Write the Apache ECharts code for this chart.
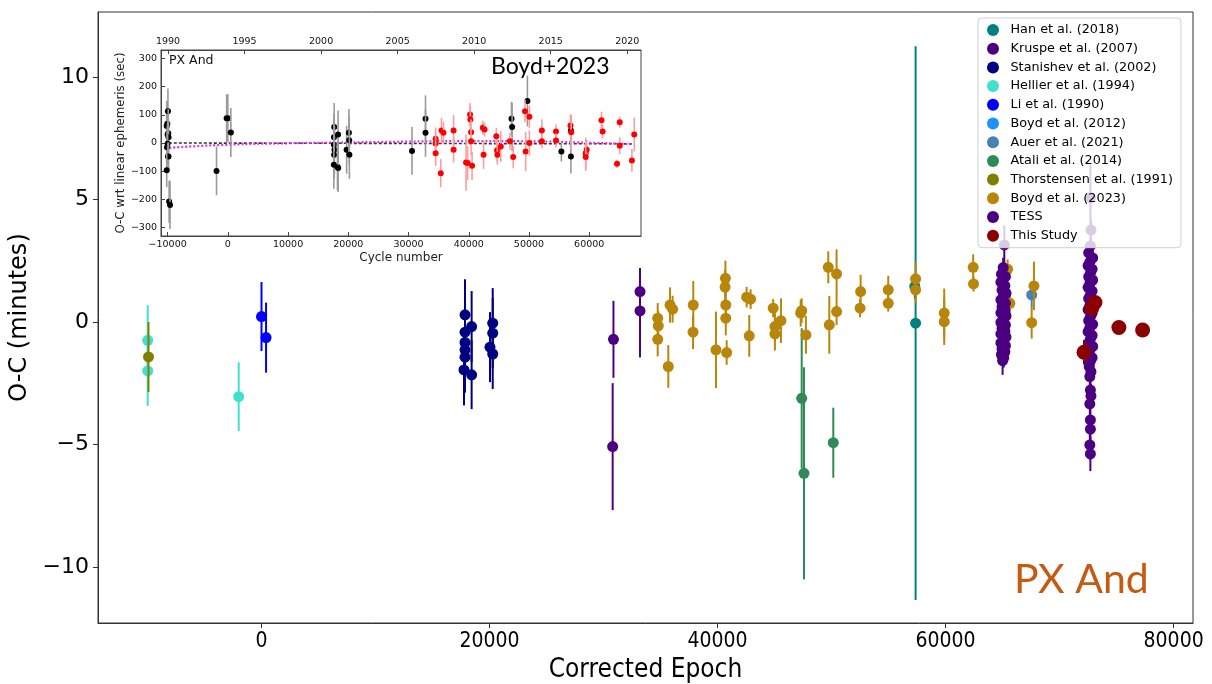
<!DOCTYPE html>
<html><head><meta charset="utf-8">
<script src="https://cdn.jsdelivr.net/npm/echarts@6/dist/echarts.min.js"></script>
<style>html,body{margin:0;padding:0;background:#fff}#c{width:1212px;height:684px}</style>
</head><body><div id="c"></div>
<script>
// ---------- main plot data: [corrected epoch, O-C (minutes), error (minutes)] ----------
const hanData = [[57300, 1.45, 0.5], [57370, -0.05, 11.3]];
const kruspeData = [[30870, -0.71, 1.57], [30800, -5.09, 2.59], [33200, 1.24, 0.95], [33200, 0.45, 1.9]];
const stanishevData = [
  [17850, 0.29, 1.45], [18430, -0.19, 1.45], [17850, -0.42, 1.45], [17850, -0.84, 1.45],
  [17850, -1.14, 1.45], [17850, -1.44, 1.45], [17760, -1.96, 1.45], [18430, -2.16, 1.40],
  [20280, -0.05, 1.43], [20280, -0.46, 1.43], [20040, -1.03, 1.43], [20280, -1.31, 1.43]
];
const hellierData = [[-9980, -0.75, 1.43], [-9980, -2.0, 1.43], [-2000, -3.05, 1.4]];
const liData = [[0, 0.22, 1.41], [400, -0.64, 1.43]];
const boyd2012Data = [];
const auerData = [[67550, 1.1, 0.5]];
const ataliData = [[47380, -3.12, 2.86], [47580, -6.18, 4.33], [50150, -4.93, 1.43]];
const thorstensenData = [[-9910, -1.43, 1.43]];
const boyd2023Data = [
  [34750, 0.15, 0.62], [34800, -0.16, 0.6], [34750, -0.71, 0.7], [35680, -1.82, 0.87],
  [35830, 0.69, 0.72], [36060, 0.52, 0.55], [37870, 0.69, 0.98], [37850, -0.42, 0.69],
  [39860, -1.14, 1.56], [40690, 1.78, 0.72], [40660, 1.42, 0.7], [40720, 0.69, 0.7],
  [40720, 0.15, 0.7], [40800, -1.25, 0.5], [42550, 1.01, 0.42], [42900, 0.93, 0.4],
  [42780, -0.57, 0.85], [44880, 0.56, 0.37], [45030, -0.19, 0.6], [45030, -0.49, 0.68],
  [45560, 0.05, 0.91], [47290, 0.36, 0.55], [47380, 0.46, 0.5], [47750, -0.53, 0.77],
  [49710, 2.23, 0.65], [50440, 1.96, 1.0], [50440, 0.42, 0.55], [49800, -0.12, 1.18],
  [52550, 1.24, 0.68], [52500, 0.56, 0.37], [54970, 1.31, 0.57], [54970, 0.76, 0.34],
  [57370, 1.76, 0.7], [57370, 1.31, 0.55], [59880, 0.36, 1.0], [59880, 0.01, 0.95],
  [62420, 2.23, 0.53], [62450, 1.55, 0.31], [65440, 2.15, 0.4], [65640, 0.76, 0.4],
  [67750, 1.47, 0.99], [67550, -0.03, 0.65]
];
const tessData = [
  [65150, 3.14, 0.8], [65050, 2.22, 0.4], [64900, 1.95, 0.35], [65250, 1.85, 0.5],
  [64850, 1.62, 0.3], [65200, 1.48, 0.35], [64950, 1.30, 0.3], [65300, 1.17, 0.35],
  [65050, 1.02, 0.3], [64850, 0.90, 0.3], [65250, 0.76, 0.35], [64950, 0.61, 0.3],
  [65200, 0.49, 0.3], [64850, 0.37, 0.35], [65300, 0.24, 0.3], [65050, 0.11, 0.3],
  [64850, -0.02, 0.35], [65250, -0.13, 0.3], [64950, -0.26, 0.3], [65200, -0.38, 0.35],
  [64850, -0.49, 0.3], [65300, -0.62, 0.3], [65050, -0.74, 0.35], [64850, -0.86, 0.3],
  [65250, -0.97, 0.3], [64950, -1.10, 0.35], [65200, -1.22, 0.3], [64900, -1.34, 0.35],
  [65100, -1.46, 0.4], [65000, -1.58, 0.58],
  [72700, 5.07, 1.35], [72750, 3.75, 0.5], [72700, 3.10, 0.4], [72550, 2.82, 0.35],
  [72900, 2.61, 0.3], [72650, 2.44, 0.35], [72500, 2.30, 0.3], [72850, 2.15, 0.3],
  [72700, 1.99, 0.35], [72550, 1.84, 0.3], [72900, 1.71, 0.3], [72650, 1.55, 0.35],
  [72500, 1.41, 0.3], [72850, 1.26, 0.3], [72700, 1.10, 0.35], [72550, 0.96, 0.3],
  [72900, 0.80, 0.3], [72650, 0.66, 0.35], [72500, 0.50, 0.3], [72850, 0.35, 0.3],
  [72700, 0.21, 0.35], [72550, 0.05, 0.3], [72900, -0.10, 0.3], [72650, -0.24, 0.35],
  [72500, -0.40, 0.3], [72850, -0.55, 0.3], [72700, -0.70, 0.35], [72550, -0.86, 0.3],
  [72900, -1.00, 0.3], [72650, -1.16, 0.35], [72500, -1.30, 0.3], [72850, -1.46, 0.3],
  [72700, -1.61, 0.35], [72600, -1.82, 0.4], [72750, -2.03, 0.4], [72650, -2.23, 0.45],
  [72700, -2.78, 0.45], [72750, -3.02, 0.5], [72650, -3.35, 0.5], [72700, -4.00, 0.55],
  [72700, -4.38, 0.55], [72650, -5.02, 0.6], [72700, -5.39, 0.7]
];
const thisStudyData = [[72140, -1.24, 0.5], [72810, 0.56, 0.2], [73100, 0.79, 0.2], [75200, -0.23, 0.25], [77280, -0.33, 0.15]];

const xTicks = [0, 20000, 40000, 60000, 80000];
const yTicks = [-10, -5, 0, 5, 10];

// ---------- inset (Boyd+2023) data: [cycle number, O-C (sec), error (sec)] ----------
const insetBlack = [
  [-10150, 60, 90], [-10050, 68, 80], [-9950, 113, 80], [-10000, 30, 60], [-9900, 35, 85],
  [-9850, 20, 60], [-10100, -15, 60], [-10000, -3, 70], [-9950, -48, 50], [-9850, -48, 50],
  [-10150, -97, 60], [-9750, -208, 75], [-9600, -220, 85],
  [-1880, -99, 86], [-200, 88, 85], [0, 88, 85], [500, 37, 87],
  [17660, 57, 85], [17620, 20, 85], [17600, -6, 85], [17700, -24, 85], [17650, -42, 85],
  [17600, -77, 85], [18200, -84, 85], [18300, 30, 85], [18320, -89, 85], [19720, -24, 85],
  [20100, 36, 85], [20150, 10, 85], [20180, -42, 85],
  [30580, -28, 85], [32820, 86, 83], [32820, 36, 85],
  [47100, 86, 60], [47200, 57, 85], [49740, 149, 90], [55380, -30, 36], [56960, 44, 55], [56960, -48, 60]
];
const insetRed = [
  [34500, 15, 40], [34500, -2, 40], [34500, -36, 45], [35350, -107, 50], [35470, 44, 45],
  [35800, 36, 40], [37480, 44, 55], [37480, -24, 45], [39550, -69, 100], [39820, -71, 60],
  [40220, 101, 40], [40270, 83, 45], [40380, 38, 45], [40380, 6, 50], [40550, -81, 50],
  [42340, 54, 25], [42620, 48, 25], [42460, -42, 50], [44580, 24, 30], [44700, -26, 40],
  [44750, -42, 35], [45320, -12, 55], [46830, 6, 30], [47380, -50, 40], [49340, 113, 40],
  [49450, -30, 70], [50070, 93, 40], [50070, 0, 45], [52140, 44, 40], [52140, 6, 25],
  [54490, 41, 25], [54490, 9, 25], [56890, 62, 40], [57010, 38, 60], [59420, -36, 55],
  [59580, -24, 35], [59420, -50, 50], [62040, 81, 30], [62230, 41, 25], [64620, -74, 15],
  [65070, 74, 20], [65070, -10, 30], [67090, -62, 40], [67480, 30, 60]
];
const insetModel = [[-9700, -17], [0, -6], [10000, -1], [20000, 2], [30000, 5], [40000, 7], [50000, 6], [60000, 1], [67300, -4]];
const insetLinear = [[-9800, 0], [67300, -3]];
const insetXTicks = [-10000, 0, 10000, 20000, 30000, 40000, 50000, 60000];
const insetYearTicks = [1990, 1995, 2000, 2005, 2010, 2015, 2020];
const insetYTicks = [-300, -200, -100, 0, 100, 200, 300];

// ---------- chart ----------
const minus = v => String(v).replace('-', '\u2212');
function errRender(fill, stroke, r, lw) {
  return function (params, api) {
    const x = api.value(0), y = api.value(1), e = api.value(2);
    const c = api.coord([x, y]), t = api.coord([x, y + e]), b = api.coord([x, y - e]);
    return {
      type: 'group', children: [
        { type: 'line', shape: { x1: c[0], y1: t[1], x2: c[0], y2: b[1] }, style: { stroke: stroke, lineWidth: lw } },
        { type: 'circle', shape: { cx: c[0], cy: c[1], r: r }, style: { fill: fill } }
      ]
    };
  };
}
const mainSets = [
  ['Han et al. (2018)', hanData, '#008080', 5.5],
  ['Kruspe et al. (2007)', kruspeData, '#4b0082', 5.5],
  ['Stanishev et al. (2002)', stanishevData, '#000080', 5.5],
  ['Hellier et al. (1994)', hellierData, '#40e0d0', 5.5],
  ['Li et al. (1990)', liData, '#0000ff', 5.5],
  ['Boyd et al. (2012)', boyd2012Data, '#1e90ff', 5.5],
  ['Auer et al. (2021)', auerData, '#4682b4', 5.5],
  ['Atali et al. (2014)', ataliData, '#2e8b57', 5.5],
  ['Thorstensen et al. (1991)', thorstensenData, '#808000', 5.5],
  ['Boyd et al. (2023)', boyd2023Data, '#b8860b', 5.5],
  ['TESS', tessData, '#4b0082', 5.5],
  ['This Study', thisStudyData, '#8b0000', 7.5]
];
const series = mainSets.map(s => ({
  type: 'custom', name: s[0], xAxisIndex: 0, yAxisIndex: 0, z: 2,
  itemStyle: { color: s[2] }, encode: { x: 0, y: 1 },
  renderItem: errRender(s[2], s[2], s[3], 2), data: s[1]
}));
series.push(
  { type: 'line', name: 'linear', xAxisIndex: 1, yAxisIndex: 1, z: 6, data: insetLinear, symbol: 'none',
    lineStyle: { color: '#333', width: 1.6, type: [3, 2] } },
  { type: 'line', name: 'model', xAxisIndex: 1, yAxisIndex: 1, z: 6, data: insetModel, symbol: 'none', smooth: true,
    lineStyle: { color: '#e030e0', width: 2.2, type: [2, 2] } },
  { type: 'custom', name: 'insetBlack', xAxisIndex: 1, yAxisIndex: 1, z: 7, encode: { x: 0, y: 1 },
    renderItem: errRender('#000', '#9a9a9a', 3, 1.6), data: insetBlack },
  { type: 'custom', name: 'insetRed', xAxisIndex: 1, yAxisIndex: 1, z: 7, encode: { x: 0, y: 1 },
    renderItem: errRender('#ff0000', '#f7a0a0', 3, 1.6), data: insetRed }
);

const insetLabel = { fontFamily: 'DejaVu Sans', fontSize: 9.5, color: '#111' };
const option = {
  animation: false,
  backgroundColor: '#fff',
  grid: [
    { left: 98, top: 12, width: 1095, height: 611, show: true, borderColor: '#333', borderWidth: 1, outerBoundsMode: 'none', containLabel: false },
    { left: 161, top: 50, width: 480, height: 186, show: true, borderColor: '#444', borderWidth: 1, backgroundColor: '#fff', z: 4, outerBoundsMode: 'none', containLabel: false }
  ],
  xAxis: [
    { type: 'value', gridIndex: 0, min: -14340, max: 81700, splitLine: { show: false },
      axisLine: { show: true, onZero: false, lineStyle: { color: '#333', width: 1 } },
      axisTick: { show: true, length: 5, lineStyle: { color: '#333' }, customValues: xTicks },
      axisLabel: { customValues: xTicks, margin: 8, fontSize: 21, color: '#000',
        fontFamily: '"Liberation Sans Narrow","DejaVu Sans Condensed","Roboto Condensed",sans-serif', formatter: minus },
      name: 'Corrected Epoch', nameLocation: 'middle', nameGap: 32,
      nameTextStyle: { fontSize: 26, color: '#000', fontFamily: '"Liberation Sans Narrow","DejaVu Sans Condensed",sans-serif' } },
    { type: 'value', gridIndex: 1, min: -11100, max: 68600, position: 'bottom', z: 5, splitLine: { show: false },
      axisLine: { show: true, onZero: false, lineStyle: { color: '#444' } },
      axisTick: { show: true, inside: true, length: 4, lineStyle: { color: '#444' }, customValues: insetXTicks },
      axisLabel: Object.assign({ customValues: insetXTicks, margin: 4, formatter: minus }, insetLabel),
      name: 'Cycle number', nameLocation: 'middle', nameGap: 16,
      nameTextStyle: { fontFamily: 'DejaVu Sans', fontSize: 12, color: '#222' } },
    { type: 'value', gridIndex: 1, min: 1989.54, max: 2020.9, position: 'top', z: 5, splitLine: { show: false },
      axisLine: { show: true, onZero: false, lineStyle: { color: '#444' } },
      axisTick: { show: true, inside: true, length: 4, lineStyle: { color: '#444' }, customValues: insetYearTicks },
      axisLabel: Object.assign({ customValues: insetYearTicks, margin: 3, formatter: v => String(v) }, insetLabel) }
  ],
  yAxis: [
    { type: 'value', gridIndex: 0, min: -12.29, max: 12.65, splitLine: { show: false },
      axisLine: { show: true, onZero: false, lineStyle: { color: '#333', width: 1 } },
      axisTick: { show: true, length: 5, lineStyle: { color: '#333' }, customValues: yTicks },
      axisLabel: { customValues: yTicks, margin: 9, fontSize: 22, color: '#000', fontFamily: 'DejaVu Sans', formatter: minus },
      name: 'O-C (minutes)', nameLocation: 'middle', nameGap: 62, nameRotate: 90,
      nameTextStyle: { fontSize: 24, color: '#000', fontFamily: 'DejaVu Sans' } },
    { type: 'value', gridIndex: 1, min: -330, max: 330, z: 5, splitLine: { show: false },
      axisLine: { show: true, onZero: false, lineStyle: { color: '#444' } },
      axisTick: { show: true, inside: true, length: 4, lineStyle: { color: '#444' }, customValues: insetYTicks },
      axisLabel: Object.assign({ customValues: insetYTicks, margin: 4, formatter: minus }, insetLabel),
      name: 'O-C wrt linear ephemeris (sec)', nameLocation: 'middle', nameGap: 34, nameRotate: 90,
      nameTextStyle: { fontFamily: 'DejaVu Sans', fontSize: 11.8, color: '#222' } }
  ],
  legend: {
    orient: 'vertical', left: 978, top: 18, padding: [5, 8, 5, 9],
    itemWidth: 25, itemHeight: 12, itemGap: 4.7, icon: 'circle',
    backgroundColor: 'rgba(255,255,255,0.8)', borderColor: '#d0d0d0', borderWidth: 1, borderRadius: 4,
    textStyle: { fontFamily: 'DejaVu Sans', fontSize: 12.8, color: '#000', lineHeight: 14 },
    data: mainSets.map(s => s[0]), selectedMode: false
  },
  graphic: [
    { type: 'rect', shape: { x: 100, y: 20, width: 545, height: 248 }, style: { fill: '#fff' }, z: 3 },
    { type: 'text', left: 169, top: 54, z: 10, style: { text: 'PX And', fontFamily: 'DejaVu Sans', fontSize: 12.5, fill: '#111' } },
    { type: 'text', left: 491, top: 55, z: 10, style: { text: 'Boyd+2023', fontFamily: 'Lato', fontSize: 23, fill: '#000' } },
    { type: 'text', left: 1014, top: 559, z: 10, style: { text: 'PX And', fontFamily: 'Lato', fontSize: 41, fill: '#c55a11' } }
  ],
  series: series
};
const chart = echarts.init(document.getElementById('c'), null, { renderer: 'canvas' });
chart.setOption(option);
</script></body></html>
